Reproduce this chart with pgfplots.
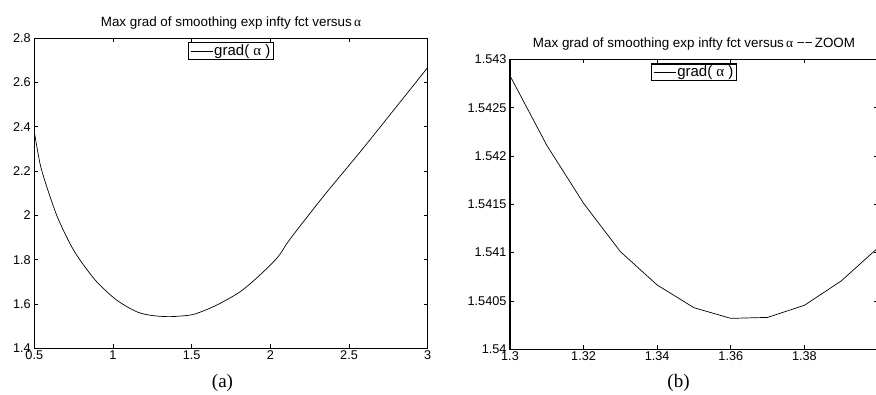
\documentclass[border=0pt]{standalone}
\usepackage{pgfplots}
\pgfplotsset{compat=1.18}
\usepackage{fontspec}
\setmainfont{Liberation Sans}
\newfontfamily\timesfont{Liberation Serif}
\begin{document}
\begin{tikzpicture}
\useasboundingbox (0pt,0pt) rectangle (876pt,394pt);
\pgfplotsset{
  every axis/.append style={
    scale only axis,
    tick align=inside,
    major tick length=4pt,
    axis line style={line width=1.3pt},
    every tick/.style={black,line width=0.8pt},
    tick label style={font=\fontsize{12.7}{15}\selectfont},
    xticklabel style={yshift=1pt},
    /pgf/number format/assume math mode=true,
    scaled x ticks=false, scaled y ticks=false,
    title style={font=\fontsize{13.4}{16}\selectfont, anchor=base, at={(0.5,1)}, yshift=6pt},
    legend style={at={(0.5,1)}, anchor=north, yshift=-4pt, draw=black, line width=1.2pt,
      font=\fontsize{15}{17}\selectfont, inner xsep=2pt, inner ysep=1pt,
      nodes={inner sep=1.2pt}},
    legend image code/.code={\draw[#1, line width=0.7pt] (0pt,0pt) -- (22pt,0pt);},
    legend cell align=left,
  }
}
\begin{axis}[
  anchor=south west, at={(34.3pt,45.7pt)}, width=393.4pt, height=310pt,
  xmin=0.5, xmax=3, ymin=1.4, ymax=2.8,
  xtick={0.5,1,1.5,2,2.5,3},
  ytick={1.4,1.6,1.8,2,2.2,2.4,2.6,2.8},
  yticklabels={1.4,1.6,1.8,2,2.2,2.4,2.6,2.8},
  xticklabels={0.5,1,1.5,2,2.5,3},
  title={Max grad of smoothing exp infty fct versus\,{\timesfont α}},
]
\addplot[black, line width=0.7pt, smooth] coordinates {
(0.500,2.378) (0.536,2.235) (0.570,2.150) (0.600,2.085) (0.640,2.005) (0.684,1.934)
(0.735,1.862) (0.790,1.799) (0.896,1.701) (1.023,1.618) (1.151,1.565) (1.250,1.548)
(1.362,1.543) (1.489,1.550) (1.553,1.563) (1.659,1.595) (1.807,1.655) (1.934,1.731)
(2.050,1.814) (2.124,1.892) (2.336,2.085) (2.580,2.295) (2.800,2.490) (3.000,2.668)
};
\addlegendentry{grad( {\timesfont α} )}
\end{axis}
\begin{axis}[
  anchor=south west, at={(510pt,44.7pt)}, width=368pt, height=290pt,
  xmin=1.3, xmax=1.4, ymin=1.54, ymax=1.543,
  xtick={1.3,1.32,1.34,1.36,1.38},
  xticklabels={1.3,1.32,1.34,1.36,1.38},
  ytick={1.54,1.5405,1.541,1.5415,1.542,1.5425,1.543},
  yticklabels={1.54,1.5405,1.541,1.5415,1.542,1.5425,1.543},
  title={Max grad of smoothing exp infty fct versus\,{\timesfont α} −−\,ZOOM},
]
\addplot[black, line width=0.7pt] coordinates {
(1.30,1.54283) (1.31,1.54211) (1.32,1.54151) (1.33,1.54101) (1.34,1.540665)
(1.35,1.54043) (1.36,1.54032) (1.37,1.54033) (1.38,1.540455) (1.39,1.540707) (1.40,1.54105)
};
\addlegendentry{grad( {\timesfont α} )}
\end{axis}
\node[font=\timesfont\fontsize{19}{21}\selectfont] at (222.5pt,11.5pt) {(a)};
\node[font=\timesfont\fontsize{19}{21}\selectfont] at (678.5pt,11.5pt) {(b)};
\end{tikzpicture}
\end{document}
